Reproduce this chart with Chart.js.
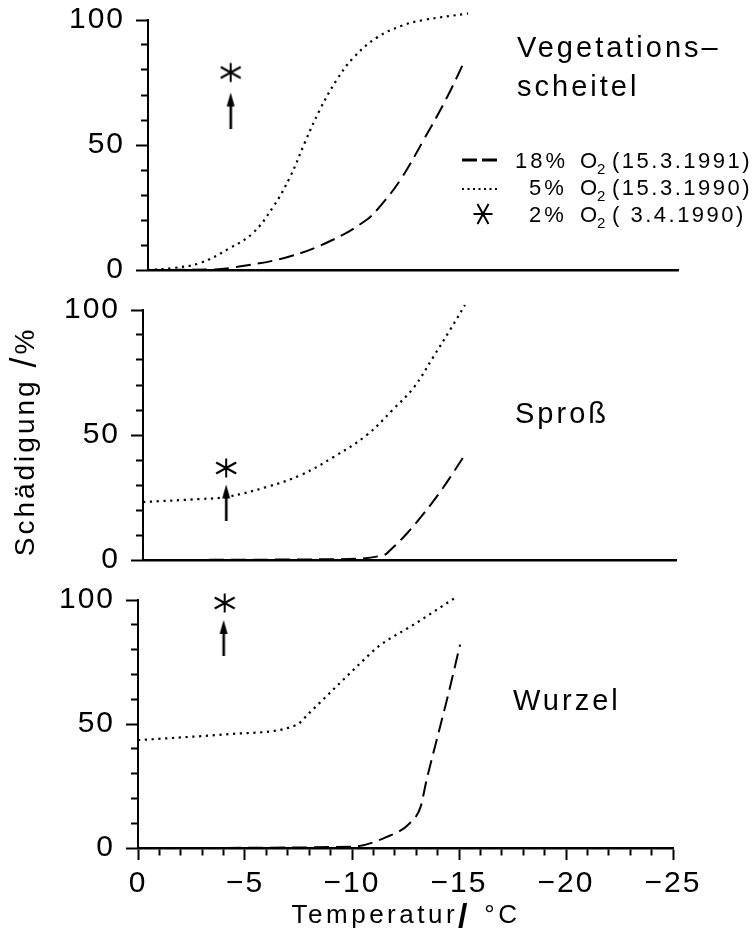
<!DOCTYPE html>
<html>
<head>
<meta charset="utf-8">
<script src="https://cdn.jsdelivr.net/npm/chart.js@4/dist/chart.umd.min.js"></script>
<style>
  html, body { margin: 0; padding: 0; background: #fff; }
  #wrap { position: relative; width: 753px; height: 942px; overflow: hidden; }
  canvas { position: absolute; left: 0; }
</style>
</head>
<body>
<div id="wrap">
  <canvas id="c1" width="753" height="290" style="top:0px"></canvas>
  <canvas id="c2" width="753" height="290" style="top:290px"></canvas>
  <canvas id="c3" width="753" height="362" style="top:580px"></canvas>
</div>
<script>
// temperatures in °C, damage in %
// Vegetationsscheitel
const topDashedT = [0, -3, -4.0, -6.6, -8.7, -10.3, -10.9, -11.9, -13.0, -14.1, -14.9];
const topDashedV = [0, 0.2, 1.0, 5.2, 12, 20, 25, 36, 52, 69, 83];
const topDottedT = [0, -1.2, -2.45, -3.87, -4.95, -5.9, -6.7, -7.4, -8.1, -8.9, -9.7, -10.8, -12.0, -13.0, -15.1];
const topDottedV = [0, 0.8, 2.8, 8.8, 14.8, 25.2, 37.2, 51, 64, 76, 85, 93, 97.8, 100, 102.6];
const topStar = { t: -3.9, v: 79 };
const topArrow = { t: -3.9, v: 63.8 };

// Sproß
const midDashedT = [0, -9, -11.3, -11.7, -12.4, -13.3, -14.1, -15.0];
const midDashedV = [0, 0.3, 2.0, 4.8, 10.8, 20, 29.2, 40.8];
const midDottedT = [0, -2.7, -3.9, -5.8, -7.4, -8.9, -10.5, -11.7, -12.7, -13.6, -14.4, -15.1];
const midDottedV = [23.2, 24.4, 25.2, 29.2, 34, 41, 50, 60, 69, 81, 92, 102];
const midStar = { t: -3.9, v: 36.8 };
const midArrow = { t: -3.9, v: 23 };

// Wurzel
const botDashedT = [0, -10, -11.6, -12.7, -13.2, -13.5, -14.0, -14.5, -15.05];
const botDashedV = [0, 0.5, 4.4, 10, 16.5, 28, 45, 62, 82];
const botDottedT = [0, -4.4, -7.4, -8.0, -9.1, -10.4, -11.2, -13.0, -14.8];
const botDottedV = [43.5, 46, 49.6, 54.4, 63.7, 74.6, 81, 90.7, 100.8];
const botStar = { t: -4.05, v: 98.8 };
const botArrow = { t: -4.0, v: 84.7 };

const yTicks = [0, 50, 100];
const xTickLabels = { 0: '0', '-5': '\u22125', '-10': '\u221210', '-15': '\u221215', '-20': '\u221220', '-25': '\u221225' };

const FONT = 'Liberation Sans, Arial, Helvetica, sans-serif';
Chart.defaults.font.family = FONT;
Chart.defaults.color = '#000';
Chart.defaults.animation = false;

function pts(ts, vs) {
    return ts.map(function (t, i) { return { x: t, y: vs[i] }; });
}

function makeStar(rot) {
    const c = document.createElement('canvas');
    c.width = 26; c.height = 24;
    const g = c.getContext('2d');
    g.strokeStyle = '#000';
    g.lineWidth = 2;
    g.translate(13, 12);
    g.rotate(rot);
    g.beginPath();
    g.moveTo(0, -9.5); g.lineTo(0, 9.5);
    g.moveTo(-10, -5.5); g.lineTo(10, 5.5);
    g.moveTo(-10, 5.5); g.lineTo(10, -5.5);
    g.stroke();
    return c;
}

function makeArrow() {
    const c = document.createElement('canvas');
    c.width = 12; c.height = 36;
    const g = c.getContext('2d');
    g.fillStyle = '#000';
    g.beginPath();
    g.moveTo(6, 0); g.lineTo(2, 14); g.lineTo(10, 14); g.closePath();
    g.fill();
    g.fillRect(4.8, 10, 2.6, 26);
    return c;
}

const starImg = makeStar(0);
const legendStarImg = makeStar(Math.PI / 2);
const arrowImg = makeArrow();

function lineSet(data, dash, width, smooth) {
    return {
        type: 'line',
        data: data,
        borderColor: '#000',
        borderWidth: width,
        borderDash: dash,
        borderCapStyle: 'butt',
        pointRadius: 0,
        cubicInterpolationMode: smooth ? 'default' : 'monotone',
        tension: 0.4,
        fill: false,
        clip: false,
    };
}

function markSet(p, img) {
    return {
        type: 'scatter',
        data: [{ x: p.t, y: p.v }],
        pointStyle: img,
        pointRadius: 10,
        clip: false,
    };
}

function textPlugin(draw) {
    return {
        id: 'panelText',
        beforeDraw: function (chart) {
            chart.ctx.letterSpacing = '2px';
        },
        afterDraw: function (chart) {
            const ctx = chart.ctx;
            ctx.save();
            ctx.fillStyle = '#000';
            ctx.strokeStyle = '#000';
            draw(ctx);
            ctx.restore();
        },
    };
}

function spaced(ctx, text, x, y, size, spacing, align, weight) {
    ctx.font = (weight || '') + ' ' + size + 'px ' + FONT;
    ctx.letterSpacing = spacing + 'px';
    ctx.textAlign = align || 'left';
    ctx.textBaseline = 'alphabetic';
    ctx.fillText(text, x, y);
    return ctx.measureText(text).width;
}

// axis title with a big slash: parts drawn one after another
function titleRow(ctx, parts, cx, y) {
    let total = 0;
    parts.forEach(function (p) {
        ctx.font = (p.w || '') + ' ' + p.s + 'px ' + FONT;
        ctx.letterSpacing = p.sp + 'px';
        total += ctx.measureText(p.t).width;
    });
    let x = cx - total / 2;
    parts.forEach(function (p) {
        x += spaced(ctx, p.t, x, y + (p.dy || 0), p.s, p.sp, 'left', p.w);
    });
}

function buildChart(id, left, right, bottomAxisH, showX, sets, draw) {
    const canvas = document.getElementById(id);
    return new Chart(canvas, {
        type: 'line',
        data: { datasets: sets },
        options: {
            responsive: false,
            maintainAspectRatio: false,
            layout: { padding: { left: 0, right: 753 - right, top: 20, bottom: showX ? 0 : 20 } },
            plugins: { legend: { display: false }, tooltip: { enabled: false } },
            scales: {
                x: {
                    type: 'linear',
                    min: -25,
                    max: 0,
                    reverse: true,
                    border: { display: true, color: '#000', width: 2.5 },
                    grid: {
                        drawOnChartArea: false,
                        drawTicks: showX,
                        tickLength: 12,
                        tickWidth: 2,
                        tickColor: '#000',
                        tickBorderDash: function (c) {
                            return (c.tick && c.tick.value % 5 === 0) ? [] : [6, 50];
                        },
                    },
                    ticks: {
                        display: showX,
                        stepSize: 1,
                        autoSkip: false,
                        maxRotation: 0,
                        minRotation: 0,
                        padding: 6,
                        font: { size: 30 },
                        callback: function (v) {
                            const k = String(Math.round(v));
                            return xTickLabels[k] !== undefined ? xTickLabels[k] : '';
                        },
                    },
                    afterFit: function (scale) {
                        scale.height = bottomAxisH;
                        scale.paddingLeft = 0;
                        scale.paddingRight = 0;
                    },
                },
                y: {
                    min: 0,
                    max: 100,
                    border: { display: true, color: '#000', width: 2 },
                    grid: {
                        drawOnChartArea: false,
                        drawTicks: true,
                        tickLength: 12,
                        tickWidth: 2,
                        tickColor: '#000',
                        tickBorderDash: function (c) {
                            return (c.tick && c.tick.value % 50 === 0) ? [] : [0, 5, 7, 50];
                        },
                    },
                    ticks: {
                        stepSize: 10,
                        autoSkip: false,
                        padding: 11,
                        font: { size: 30 },
                        callback: function (v) { return yTicks.indexOf(v) >= 0 ? String(v) : ''; },
                    },
                    afterFit: function (scale) {
                        scale.width = left;
                        scale.paddingTop = 0;
                        scale.paddingBottom = 0;
                    },
                },
            },
        },
        plugins: [textPlugin(draw)],
    });
}

buildChart('c1', 148, 678, 0, false, [
    lineSet(pts(topDashedT, topDashedV), [15, 7], 2, true),
    lineSet(pts(topDottedT, topDottedV), [2.2, 4.6], 2.2, true),
    markSet(topStar, starImg),
    markSet(topArrow, arrowImg),
], function (ctx) {
    spaced(ctx, 'Vegetations\u2013', 517, 57, 29, 3);
    spaced(ctx, 'scheitel', 517, 96, 29, 3);
    // legend
    ctx.lineWidth = 3;
    ctx.setLineDash([15, 5]);
    ctx.beginPath(); ctx.moveTo(462, 160); ctx.lineTo(499, 160); ctx.stroke();
    ctx.lineWidth = 2;
    ctx.setLineDash([2, 3.5]);
    ctx.beginPath(); ctx.moveTo(462, 189); ctx.lineTo(499, 189); ctx.stroke();
    ctx.setLineDash([]);
    ctx.drawImage(legendStarImg, 483 - 13, 214 - 12);
    const rows = [
        { p: '18%', px: 515, d: '(15.3.1991)', y: 168 },
        { p: '5%', px: 529, d: '(15.3.1990)', y: 195 },
        { p: '2%', px: 529, d: '( 3.4.1990)', y: 222 },
    ];
    rows.forEach(function (r) {
        spaced(ctx, r.p, r.px, r.y, 22, 3);
        spaced(ctx, 'O', 580, r.y, 22, 0);
        spaced(ctx, '2', 597, r.y + 6, 15, 0);
        spaced(ctx, r.d, 612, r.y, 22, 2.5);
    });
});

buildChart('c2', 143, 676, 0, false, [
    lineSet(pts(midDashedT, midDashedV), [15, 7], 2, false),
    lineSet(pts(midDottedT, midDottedV), [2.2, 4.6], 2.2, true),
    markSet(midStar, starImg),
    markSet(midArrow, arrowImg),
], function (ctx) {
    spaced(ctx, 'Spro\u00df', 515, 133, 29, 3);
    ctx.save();
    ctx.translate(34, 153);
    ctx.rotate(-Math.PI / 2);
    titleRow(ctx, [
        { t: 'Sch\u00e4digung ', s: 28, sp: 3 },
        { t: '/', s: 36, sp: 3, dy: 2 },
        { t: '%', s: 28, sp: 0 },
    ], 0, 0);
    ctx.restore();
});

buildChart('c3', 138, 673, 94, true, [
    lineSet(pts(botDashedT, botDashedV), [15, 7], 2, false),
    lineSet(pts(botDottedT, botDottedV), [2.2, 4.6], 2.2, false),
    markSet(botStar, starImg),
    markSet(botArrow, arrowImg),
], function (ctx) {
    spaced(ctx, 'Wurzel', 513, 130, 29, 3);
    titleRow(ctx, [
        { t: 'Temperatur', s: 26, sp: 3.5 },
        { t: '/', s: 34, sp: 6, w: 'bold', dy: 4 },
        { t: ' \u00b0C', s: 26, sp: 3.5 },
    ], 406, 343);
});
</script>
</body>
</html>
